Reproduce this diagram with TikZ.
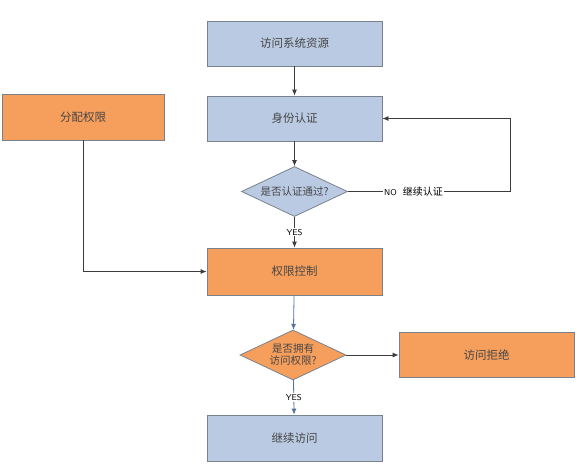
\documentclass[tikz,border=0pt]{standalone}
\usepackage{fontspec}
\newfontfamily\cjk{Noto Sans CJK SC}
\usetikzlibrary{shapes.geometric,arrows.meta}
\definecolor{bfill}{RGB}{186,202,226}
\definecolor{ofill}{RGB}{246,158,92}
\definecolor{bord}{RGB}{120,130,140}
\definecolor{txt}{RGB}{70,70,70}
\definecolor{ln}{RGB}{60,60,60}
\definecolor{bln}{RGB}{85,115,160}
\begin{document}
\begin{tikzpicture}[x=1pt,y=-1pt,
  box/.style={draw=bord,line width=0.8pt,minimum width=175pt,minimum height=45pt,inner sep=0pt,font=\cjk\fontsize{11.5}{13}\selectfont,text=txt},
  bbox/.style={box,fill=bfill},
  obox/.style={box,fill=ofill},
  dia/.style={diamond,draw=bord,line width=0.8pt,aspect=2.1,minimum width=106pt,minimum height=50pt,inner sep=0pt,font=\cjk\fontsize{10.5}{12}\selectfont,text=txt,align=center},
  conn/.style={draw=ln,line width=0.8pt,-{Latex[length=6pt,width=5pt]}},
  lab/.style={font=\sffamily\fontsize{8.5}{10}\selectfont,text=black,fill=white,inner sep=1pt}]
\useasboundingbox (0,0) rectangle (588,475);
\node[bbox] (a) at (294.5,43.5) {访问系统资源};
\node[bbox] (b) at (294.5,118.5) {身份认证};
\node[dia,fill=bfill] (d1) at (294.5,191.5) {是否认证通过?};
\node[obox,minimum width=162pt,minimum height=46pt] (f) at (83,117) {分配权限};
\node[obox,minimum height=47pt] (c) at (294.5,271.5) {权限控制};
\node[dia,fill=ofill] (d2) at (293,355) {是否拥有\\访问权限?};
\node[obox] (r) at (486.5,355) {访问拒绝};
\node[bbox,minimum height=46pt] (e) at (294.5,438) {继续访问};
\coordinate (n1) at (510,191.5);
\coordinate (n2) at (510,118.5);
\coordinate (fc) at (83,271.5);
\draw[conn] (a) -- (b);
\draw[conn] (b) -- (d1);
\draw[draw=ln,line width=0.8pt] (d1.east) -- (n1);
\draw[conn] (n1) -- (n2) -- (b.east);
\node[lab,anchor=west] (nol) at (383,191.5) {NO\hspace{6pt}{\cjk\fontsize{10}{12}\selectfont 继续认证}};
\draw[conn] (d1) -- node[lab,pos=0.5] (y1) {YES} (c);
\draw[conn] (f.south) -- (fc) -- (c.west);
\draw[conn,draw=bln] (c) -- (d2);
\draw[conn] (d2.east) -- (r.west);
\draw[conn,draw=bln] (d2) -- node[lab,pos=0.5] (y2) {YES} (e);
\end{tikzpicture}
\end{document}
